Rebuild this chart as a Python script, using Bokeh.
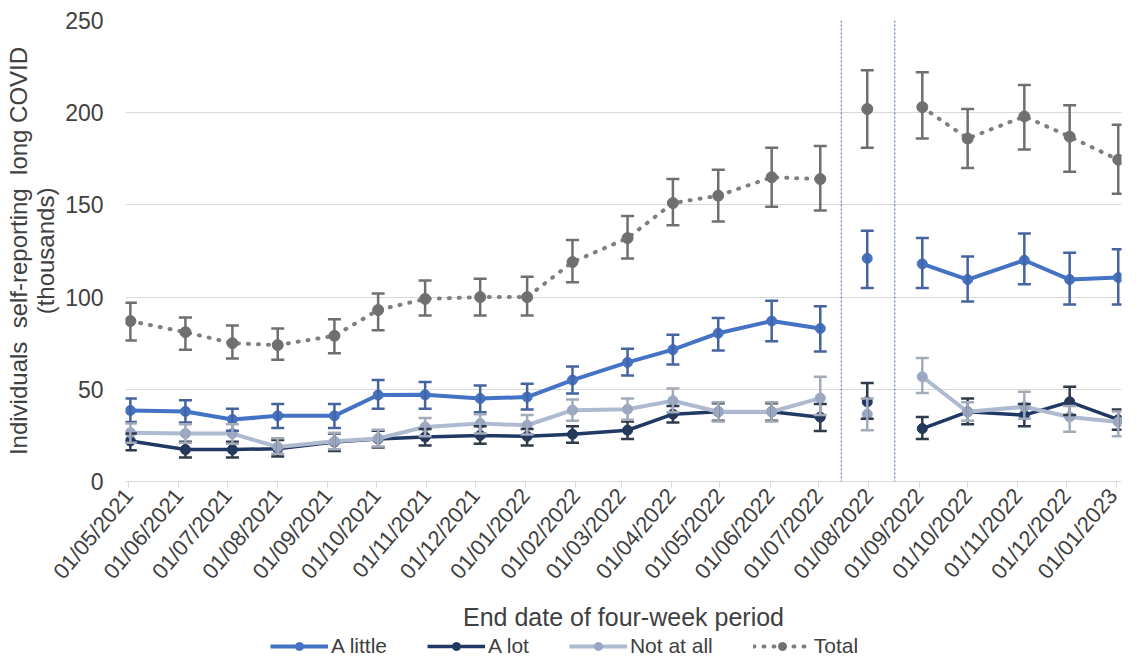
import math
from datetime import datetime
import numpy as np
from bokeh.plotting import figure
from bokeh.layouts import column
from bokeh.models import (ColumnDataSource, Whisker, TeeHead, FixedTicker, Legend,
                          LegendItem, Span, Range1d)
from bokeh.embed import file_html
from bokeh.resources import INLINE

# ---------------- data ----------------
end_dates = ["2021-05-02", "2021-06-05", "2021-07-04", "2021-08-01", "2021-09-05",
             "2021-10-02", "2021-10-31", "2021-12-04", "2022-01-02", "2022-01-30",
             "2022-03-05", "2022-04-02", "2022-04-30", "2022-06-02", "2022-07-02",
             "2022-07-31", "2022-09-03", "2022-10-01", "2022-11-05", "2022-12-03",
             "2023-01-02"]

a_little    = [38.5, 38.0, 33.6, 35.6, 35.6, 46.9, 47.0, 45.0, 45.8, 55.0, 64.6,
               71.5, 80.4, 87.0, 83.0, 121.0, 118.0, 109.5, 120.0, 109.5, 110.6]
a_little_lo = [32.3, 32.0, 27.5, 29.0, 29.0, 39.5, 39.5, 37.5, 39.0, 47.7, 57.5,
               63.4, 71.0, 76.0, 70.5, 105.0, 105.0, 97.6, 107.0, 96.0, 96.0]
a_little_hi = [45.0, 44.0, 39.5, 42.0, 42.0, 55.0, 54.0, 52.0, 53.0, 62.4, 72.0,
               79.6, 88.7, 98.0, 95.0, 136.0, 132.0, 122.0, 134.5, 124.0, 126.0]

a_lot    = [22.0, 17.3, 17.3, 17.8, 21.4, 23.0, 24.1, 25.0, 24.5, 25.6, 27.8,
            36.5, 37.8, 37.8, 34.9, 43.2, 28.7, 37.8, 36.0, 43.2, 33.5]
a_lot_lo = [17.0, 13.0, 13.0, 13.5, 16.5, 18.5, 19.5, 20.5, 19.5, 21.0, 23.0,
            32.0, 33.0, 33.0, 27.4, 34.0, 23.0, 31.0, 30.0, 36.0, 28.0]
a_lot_hi = [26.0, 21.5, 21.5, 22.5, 26.0, 27.5, 28.5, 30.0, 28.5, 30.0, 32.5,
            41.0, 42.5, 42.5, 42.0, 53.4, 35.0, 45.0, 42.0, 51.4, 39.0]

not_at_all    = [26.5, 26.0, 26.0, 18.7, 21.8, 23.3, 29.6, 31.4, 30.5, 38.7, 39.2,
                 43.8, 37.8, 37.8, 45.2, 36.5, 56.8, 37.8, 40.5, 35.0, 32.3]
not_at_all_lo = [21.0, 21.0, 20.5, 15.0, 17.5, 19.0, 24.5, 26.0, 25.5, 33.0, 33.5,
                 37.5, 32.5, 32.5, 36.0, 27.8, 48.0, 33.0, 34.0, 27.0, 24.5]
not_at_all_hi = [31.5, 31.0, 31.0, 23.5, 26.5, 28.0, 34.5, 36.5, 36.0, 44.5, 45.0,
                 50.5, 43.0, 43.0, 56.8, 45.0, 67.0, 43.0, 48.7, 41.0, 38.0]

total    = [87.0, 81.0, 75.0, 74.0, 79.0, 93.0, 99.0, 100.0, 100.0, 119.0, 132.0,
            151.0, 155.0, 165.0, 164.0, 202.0, 203.0, 186.0, 198.0, 187.0, 174.5]
total_lo = [76.5, 71.5, 66.7, 66.0, 69.5, 82.0, 90.0, 90.0, 90.0, 108.0, 121.0,
            139.0, 141.0, 149.0, 147.0, 181.0, 186.0, 170.0, 180.0, 168.0, 156.0]
total_hi = [97.0, 89.0, 84.6, 83.0, 88.0, 102.0, 109.0, 110.0, 111.0, 131.0, 144.0,
            164.0, 169.0, 181.0, 182.0, 223.0, 222.0, 202.0, 215.0, 204.0, 193.5]

tick_dates = ["2021-05-01", "2021-06-01", "2021-07-01", "2021-08-01", "2021-09-01",
              "2021-10-01", "2021-11-01", "2021-12-01", "2022-01-01", "2022-02-01",
              "2022-03-01", "2022-04-01", "2022-05-01", "2022-06-01", "2022-07-01",
              "2022-08-01", "2022-09-01", "2022-10-01", "2022-11-01", "2022-12-01",
              "2023-01-01"]
tick_labels = ["01/05/2021", "01/06/2021", "01/07/2021", "01/08/2021", "01/09/2021",
               "01/10/2021", "01/11/2021", "01/12/2021", "01/01/2022", "01/02/2022",
               "01/03/2022", "01/04/2022", "01/05/2022", "01/06/2022", "01/07/2022",
               "01/08/2022", "01/09/2022", "01/10/2022", "01/11/2022", "01/12/2022",
               "01/01/2023"]
y_ticks = [0, 50, 100, 150, 200, 250]
break_dates = ["2022-07-15", "2022-08-17"]

# ---------------- helpers ----------------
EPOCH = datetime(1970, 1, 1)


def to_dt(s):
    return datetime.strptime(s, "%Y-%m-%d")


def to_ms(s):
    return (to_dt(s) - EPOCH).total_seconds() * 1000.0


x = [to_dt(d) for d in end_dates]
x_ms = [to_ms(d) for d in end_dates]
b0, b1 = to_dt(break_dates[0]), to_dt(break_dates[1])
isolated = [b0 < d < b1 for d in x]


def line_vals(vals):
    return [np.nan if iso else v for v, iso in zip(vals, isolated)]


FONT = "Liberation Sans"
TXT = "#404040"

p = figure(frame_width=996, frame_height=461, output_backend="svg",
           toolbar_location=None, x_axis_type="datetime",
           x_range=Range1d(datetime(2021, 4, 29), datetime(2023, 1, 4)),
           y_range=Range1d(0, 250),
           min_border_left=125, min_border_right=1, min_border_top=20,
           min_border_bottom=0)
p.outline_line_color = None
p.xgrid.grid_line_color = None
p.ygrid.grid_line_color = "#d9d9d9"
p.ygrid.grid_line_width = 1

# axes
p.yaxis.ticker = FixedTicker(ticks=y_ticks)
p.yaxis.axis_line_color = None
p.yaxis.major_tick_line_color = None
p.yaxis.minor_tick_line_color = None
p.yaxis.major_label_text_font = FONT
p.yaxis.major_label_text_font_size = "23px"
p.yaxis.major_label_text_color = TXT
p.yaxis.major_label_standoff = 16
p.yaxis.axis_label = "Individuals\u00a0\u00a0self-reporting\u00a0\u00a0long COVID\n(thousands)"
p.yaxis.axis_label_text_font = FONT
p.yaxis.axis_label_text_font_size = "24px"
p.yaxis.axis_label_text_font_style = "normal"
p.yaxis.axis_label_text_color = TXT
p.yaxis.axis_label_text_line_height = 1.0
p.yaxis.axis_label_standoff = 3

tick_ms = [to_ms(d) for d in tick_dates]
p.xaxis.ticker = FixedTicker(ticks=tick_ms)
p.xaxis.major_label_overrides = {t: lab for t, lab in zip(tick_ms, tick_labels)}
p.xaxis.major_label_orientation = 0.87
p.xaxis.axis_line_color = "#d9d9d9"
p.xaxis.major_tick_line_color = "#d9d9d9"
p.xaxis.major_tick_in = 0
p.xaxis.major_tick_out = 6
p.xaxis.minor_tick_line_color = None
p.xaxis.major_label_text_font = FONT
p.xaxis.major_label_text_font_size = "22px"
p.xaxis.major_label_text_color = TXT
p.xaxis.major_label_standoff = 4
p.xaxis.axis_label = "End date of four-week period"
p.xaxis.axis_label_text_font = FONT
p.xaxis.axis_label_text_font_size = "25px"
p.xaxis.axis_label_text_font_style = "normal"
p.xaxis.axis_label_text_color = TXT
p.xaxis.axis_label_standoff = 8

# break lines
for bd in break_dates:
    p.add_layout(Span(location=to_dt(bd), dimension="height", line_color="#3f63b0",
                      line_dash="2 2", line_width=1))

series = [
    ("A little", a_little, a_little_lo, a_little_hi, "#4472C4", "#4472C4", "#44639f", 4, None, 10),
    ("A lot", a_lot, a_lot_lo, a_lot_hi, "#1F3864", "#1F3864", "#2f3a4a", 3.5, None, 10),
    ("Not at all", not_at_all, not_at_all_lo, not_at_all_hi, "#AEBAD0", "#97A7C4", "#A3ABBA", 4, None, 10),
    ("Total", total, total_lo, total_hi, "#7F7F7F", "#707070", "#6f6f6f", 4, "1 9", 11),
]

# legend strip: a small figure under the chart (its frame aligns with the chart's)
leg_fig = figure(width=1122, height=26, output_backend="svg", toolbar_location=None,
                 x_range=Range1d(0, 1), y_range=Range1d(0, 1), min_border=0)
leg_fig.axis.visible = False
leg_fig.grid.visible = False
leg_fig.outline_line_color = None

items = []
for name, vals, lo, hi, lcol, mcol, wcol, lw, dash, msize in series:
    src = ColumnDataSource(dict(x=x, y=vals, ly=line_vals(vals), lo=lo, hi=hi))
    kw = dict(line_dash=dash, line_cap="round") if dash else dict(line_join="round")
    p.line("x", "ly", source=src, line_color=lcol, line_width=lw, **kw)
    wh = Whisker(base="x", upper="hi", lower="lo", source=src, line_color=wcol,
                 line_width=2.5, level="glyph",
                 upper_head=TeeHead(size=13, line_color=wcol, line_width=2.5),
                 lower_head=TeeHead(size=13, line_color=wcol, line_width=2.5))
    p.add_layout(wh)
    p.scatter("x", "y", source=src, size=msize, marker="circle",
              fill_color=mcol, line_color=mcol)
    # legend proxies: same styling, series data lies outside this strip's ranges
    psrc = ColumnDataSource(dict(x=x_ms[:2], y=vals[:2]))
    lr = leg_fig.line("x", "y", source=psrc, line_color=lcol, line_width=lw, **kw)
    sr = leg_fig.scatter("x", "y", source=psrc, size=msize, marker="circle",
                         fill_color=mcol, line_color=mcol)
    items.append(LegendItem(label=name, renderers=[lr, sr]))

legend = Legend(items=items, orientation="horizontal", location=(145, 1),
                label_text_font=FONT, label_text_font_size="21px",
                label_text_color=TXT, glyph_width=58, glyph_height=20,
                label_standoff=3, spacing=40, padding=0, margin=0,
                border_line_color=None, background_fill_alpha=0)
leg_fig.add_layout(legend)

layout = column(p, leg_fig, spacing=0)
open("out.html", "w").write(file_html(layout, INLINE))
